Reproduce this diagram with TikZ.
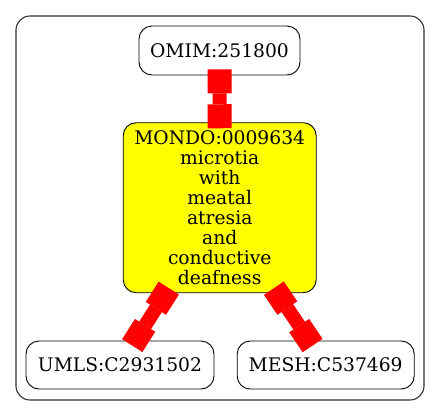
\documentclass[tikz,border=0pt]{standalone}
\usepackage{fontspec}
\setmainfont{DejaVu Serif}
\usetikzlibrary{arrows.meta}
\definecolor{nodeyellow}{RGB}{255,255,0}
\definecolor{edgered}{RGB}{255,0,0}
\begin{document}
\begin{tikzpicture}[x=1pt,y=-1pt,
  cluster/.style={draw=black!80, line width=1.1pt, rounded corners=14pt, inner sep=0pt},
  entity/.style={draw=black, line width=0.9pt, rounded corners=13pt, inner sep=0pt,
    font=\fontsize{18.7}{19.9}\selectfont, align=center},
  link/.style={draw=edgered, line width=14pt,
    {Rectangle[length=24pt,width=24pt,line width=0pt]}-{Rectangle[length=24pt,width=24pt,line width=0pt]},
    shorten <=-6pt, shorten >=-6pt}]
\useasboundingbox (0,0) rectangle (440,416);
\node[cluster, minimum width=408pt, minimum height=384pt] (frame) at (220,208) {};
\node[entity, minimum width=161pt, minimum height=49pt] (omim) at (219.5,50.5) {OMIM:251800};
\node[entity, fill=nodeyellow, minimum width=193pt, minimum height=170pt] (mondo) at (219.7,207.7)
  {MONDO:0009634\\microtia\\with\\meatal\\atresia\\and\\conductive\\deafness};
\node[entity, minimum width=188pt, minimum height=48pt] (umls) at (120,365) {UMLS:C2931502};
\node[entity, minimum width=177pt, minimum height=48pt] (mesh) at (325.7,365) {MESH:C537469};
\draw[link] (omim) -- (mondo);
\draw[link] (mondo) -- (umls);
\draw[link] (mondo) -- (mesh);
\end{tikzpicture}
\end{document}
